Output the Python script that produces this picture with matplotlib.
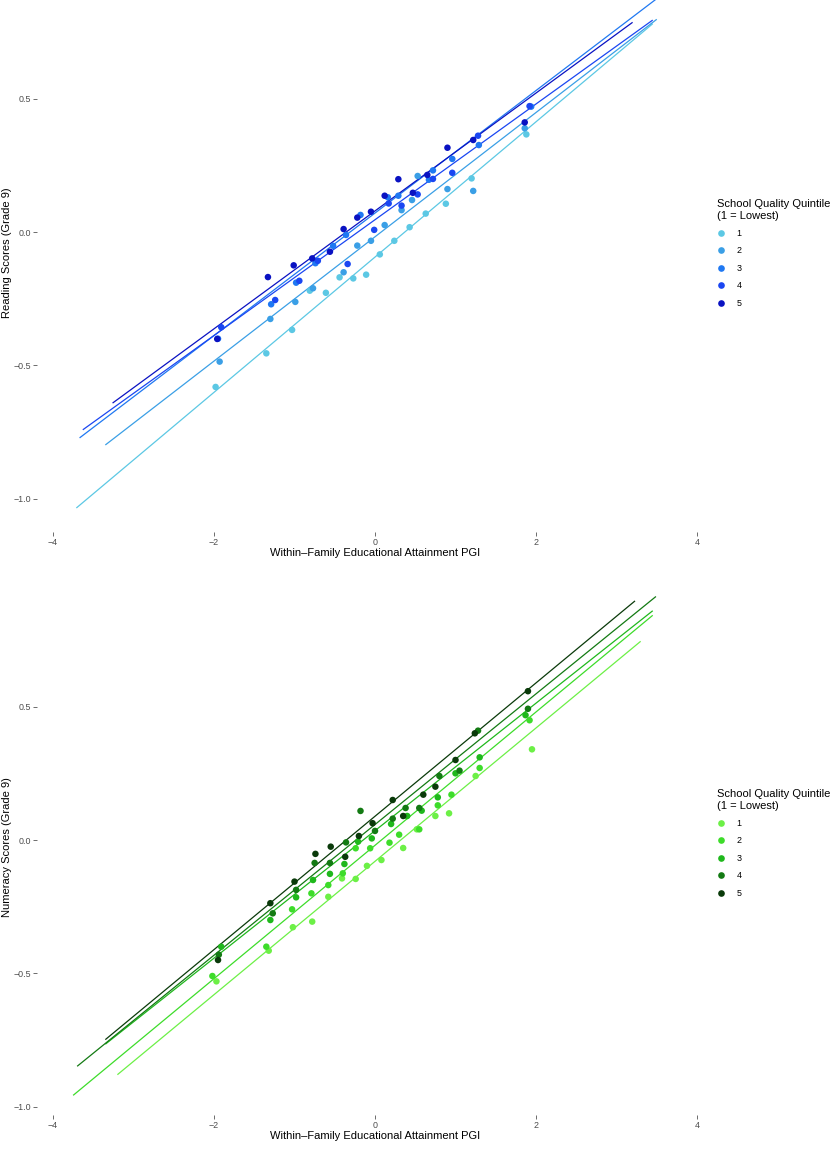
import matplotlib
matplotlib.use("Agg")
import matplotlib.pyplot as plt
from matplotlib.lines import Line2D
import numpy as np

plt.rcParams['font.family'] = ['Liberation Sans', 'DejaVu Sans']

quintiles = ["1", "2", "3", "4", "5"]
blues = ["#5CC8E4", "#3A9FE6", "#1F78F2", "#1A46F2", "#0A12C2"]
greens = ["#6CF046", "#3DDC2A", "#1FB81C", "#137A13", "#0A3A0A"]

# reading scores, binned points per quintile
read_x = [
    [-1.98, -1.35, -1.03, -0.81, -0.61, -0.44, -0.27, -0.11, 0.06, 0.24, 0.43, 0.63, 0.88, 1.20, 1.88],
    [-1.93, -1.30, -0.99, -0.77, -0.39, -0.22, -0.05, 0.12, 0.33, 0.46, 0.53, 0.90, 1.22, 1.86],
    [-1.95, -1.29, -0.98, -0.74, -0.52, -0.36, -0.18, 0.16, 0.29, 0.67, 0.72, 0.96, 1.29, 1.94],
    [-1.91, -1.24, -0.94, -0.71, -0.34, -0.01, 0.17, 0.33, 0.53, 0.72, 0.96, 1.28, 1.92],
    [-1.96, -1.33, -1.01, -0.78, -0.56, -0.39, -0.22, -0.05, 0.12, 0.29, 0.47, 0.65, 0.90, 1.22, 1.86],
]
read_y = [
    [-0.581, -0.455, -0.367, -0.220, -0.228, -0.170, -0.174, -0.160, -0.084, -0.033, 0.018, 0.069, 0.106, 0.201, 0.366],
    [-0.486, -0.326, -0.262, -0.211, -0.151, -0.051, -0.033, 0.026, 0.082, 0.120, 0.210, 0.161, 0.154, 0.389],
    [-0.400, -0.271, -0.190, -0.117, -0.052, -0.011, 0.064, 0.130, 0.136, 0.196, 0.231, 0.274, 0.326, 0.470],
    [-0.357, -0.255, -0.183, -0.108, -0.120, 0.008, 0.107, 0.099, 0.141, 0.199, 0.222, 0.361, 0.472],
    [-0.401, -0.169, -0.125, -0.099, -0.074, 0.011, 0.054, 0.076, 0.136, 0.198, 0.147, 0.214, 0.316, 0.345, 0.411],
]
# fitted lines (intercept, slope, x range)
read_int = [-0.094, -0.018, 0.071, 0.046, 0.079]
read_slope = [0.2536, 0.233, 0.2297, 0.217, 0.221]
read_lo = [-3.71, -3.35, -3.67, -3.63, -3.26]
read_hi = [3.45, 3.50, 3.60, 3.45, 3.20]

# numeracy scores
num_x = [
    [-1.97, -1.32, -1.02, -0.78, -0.58, -0.41, -0.24, -0.10, 0.08, 0.35, 0.52, 0.75, 0.92, 1.25, 1.95],
    [-2.02, -1.35, -1.03, -0.79, -0.58, -0.40, -0.24, -0.06, 0.18, 0.30, 0.55, 0.78, 0.95, 1.30, 1.92],
    [-1.91, -1.30, -0.98, -0.77, -0.56, -0.38, -0.21, -0.04, 0.20, 0.40, 0.58, 0.78, 1.00, 1.30, 1.87],
    [-1.94, -1.27, -0.98, -0.75, -0.56, -0.36, -0.18, 0.00, 0.22, 0.38, 0.55, 0.80, 1.05, 1.28, 1.90],
    [-1.95, -1.30, -1.00, -0.74, -0.55, -0.37, -0.20, -0.03, 0.22, 0.35, 0.60, 0.75, 1.00, 1.24, 1.90],
]
num_y = [
    [-0.530, -0.415, -0.327, -0.306, -0.213, -0.144, -0.146, -0.097, -0.075, -0.030, 0.040, 0.090, 0.100, 0.240, 0.340],
    [-0.510, -0.400, -0.260, -0.200, -0.169, -0.125, -0.031, -0.031, -0.010, 0.020, 0.040, 0.130, 0.170, 0.270, 0.449],
    [-0.400, -0.300, -0.215, -0.150, -0.127, -0.090, -0.006, 0.006, 0.060, 0.090, 0.110, 0.160, 0.250, 0.310, 0.468],
    [-0.430, -0.275, -0.187, -0.086, -0.086, -0.009, 0.109, 0.034, 0.080, 0.120, 0.120, 0.240, 0.260, 0.410, 0.492],
    [-0.450, -0.237, -0.156, -0.052, -0.025, -0.063, 0.015, 0.063, 0.150, 0.090, 0.170, 0.200, 0.300, 0.400, 0.558],
]
num_int = [-0.080, -0.020, 0.035, 0.058, 0.089]
num_slope = [0.250, 0.250, 0.239, 0.245, 0.250]
num_lo = [-3.20, -3.75, -3.35, -3.70, -3.35]
num_hi = [3.30, 3.45, 3.45, 3.49, 3.23]

x_ticks = [-4, -2, 0, 2, 4]
y_ticks = [-1.0, -0.5, 0.0, 0.5]
x_title = "Within\u2013Family Educational Attainment PGI"
legend_title = "School Quality Quintile\n(1 = Lowest)"

W, H = 830, 1151
fig = plt.figure(figsize=(W / 100, H / 100), dpi=100)

X0, XS = 375, 80.5      # pixel of x=0, pixels per unit
YS = 266.7              # pixels per unit on y
LEFT, RIGHT = 37, 713


def make_panel(top, bottom, y0, xs, ys, ints, slopes, lo, hi, colors, ylab, leg_top):
    ax = fig.add_axes([LEFT / W, 1 - bottom / H, (RIGHT - LEFT) / W, (bottom - top) / H])
    for i in range(5):
        xl = np.array([lo[i], hi[i]])
        ax.plot(xl, ints[i] + slopes[i] * xl, color=colors[i], lw=0.9,
                solid_capstyle='butt', zorder=2)
    for i in range(5):
        ax.scatter(xs[i], ys[i], s=22, color=colors[i], edgecolors='none', zorder=3)

    ax.set_xlim((LEFT - X0) / XS, (RIGHT - X0) / XS)
    ax.set_ylim((y0 - bottom) / YS, (y0 - top) / YS)
    ax.set_xticks(x_ticks)
    ax.set_yticks(y_ticks)
    ax.set_yticklabels(["\u22121.0", "\u22120.5", "0.0", "0.5"])
    for s in ax.spines.values():
        s.set_visible(False)
    ax.tick_params(length=2.7, width=0.5, color='#333333', labelsize=6.4,
                   labelcolor='#4D4D4D', pad=1.5)
    ax.set_xlabel(x_title, fontsize=8)
    ax.xaxis.set_label_coords(0.5, -16 / (bottom - top))
    ax.set_ylabel(ylab, fontsize=8)
    ax.yaxis.set_label_coords((12 - LEFT) / (RIGHT - LEFT), 0.5)

    handles = [Line2D([0], [0], marker='o', ls='none', color=c, markersize=4.8,
                      markeredgewidth=0) for c in colors]
    fig.legend(handles, quintiles, title=legend_title, loc='upper left',
               bbox_to_anchor=(717 / W, 1 - leg_top / H), frameon=False,
               fontsize=6.4, title_fontsize=8, alignment='left',
               handlelength=0.8, handletextpad=1.4, labelspacing=0.95,
               borderpad=0, borderaxespad=0)
    return ax


make_panel(-26, 532, 232, read_x, read_y, read_int, read_slope, read_lo, read_hi,
           blues, "Reading Scores (Grade 9)", 199)
make_panel(579, 1115, 840, num_x, num_y, num_int, num_slope, num_lo, num_hi,
           greens, "Numeracy Scores (Grade 9)", 789)

fig.savefig("out.png", dpi=100)
